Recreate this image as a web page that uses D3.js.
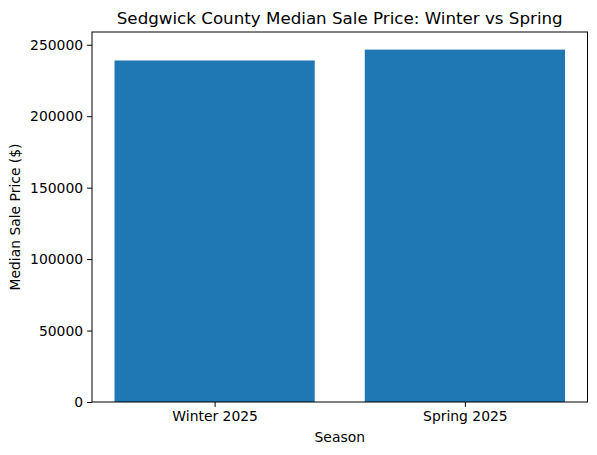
<!DOCTYPE html>
<html>
<head>
<meta charset="utf-8">
<script src="https://cdn.jsdelivr.net/npm/d3@7"></script>
<style>
  body { margin: 0; background: #fff; }
  text { font-family: "DejaVu Sans", sans-serif; fill: #000; }
</style>
</head>
<body>
<div id="chart"></div>
<script>
// data
var seasons = ["Winter 2025", "Spring 2025"];
var medianPrice = [239000, 246600];
var yTicks = [0, 50000, 100000, 150000, 200000, 250000];

var svgWidth = 597;
var svgHeight = 455;

var margin = { top: 32, right: 10, bottom: 53, left: 92 };
var width = 587.5 - margin.left;
var height = 402 - margin.top;

var svg = d3.select("#chart")
    .append("svg")
    .attr("width", svgWidth)
    .attr("height", svgHeight);

var g = svg.append("g")
    .attr("transform", `translate(${margin.left}, ${margin.top})`);

// scales (matplotlib-like margins)
var xScale = d3.scaleLinear()
    .domain([-0.49, 1.49])
    .range([0, width]);

var yScale = d3.scaleLinear()
    .domain([0, d3.max(medianPrice) * 1.05])
    .range([height, 0]);

// bars
g.selectAll("rect")
    .data(medianPrice)
    .enter()
    .append("rect")
    .attr("x", (d, i) => xScale(i - 0.4))
    .attr("width", (d, i) => xScale(i + 0.4) - xScale(i - 0.4))
    .attr("y", d => yScale(d))
    .attr("height", d => height - yScale(d))
    .attr("fill", "#1f77b4");

// axes
var bottomAxis = d3.axisBottom(xScale)
    .tickValues(d3.range(seasons.length))
    .tickFormat(i => seasons[i])
    .tickSize(4.9)
    .tickPadding(4);

var leftAxis = d3.axisLeft(yScale)
    .tickValues(yTicks)
    .tickFormat(d3.format("d"))
    .tickSize(4.9)
    .tickPadding(4);

var axisX = g.append("g")
    .attr("transform", `translate(0, ${height})`)
    .call(bottomAxis);

var axisY = g.append("g")
    .call(leftAxis);

[axisX, axisY].forEach(a => {
    a.select(".domain").remove();
    a.selectAll("text").style("font-size", "13.9px").style("font-family", "DejaVu Sans, sans-serif");
    a.selectAll("line").attr("stroke", "#000").attr("stroke-width", 1);
});

// frame
g.append("rect")
    .attr("x", 0)
    .attr("y", 0)
    .attr("width", width)
    .attr("height", height)
    .attr("fill", "none")
    .attr("stroke", "#000")
    .attr("stroke-width", 1);

// labels
svg.append("text")
    .attr("x", margin.left + width / 2)
    .attr("y", 24)
    .attr("text-anchor", "middle")
    .style("font-size", "16.7px")
    .text("Sedgwick County Median Sale Price: Winter vs Spring");

svg.append("text")
    .attr("x", margin.left + width / 2)
    .attr("y", 442)
    .attr("text-anchor", "middle")
    .style("font-size", "13.9px")
    .text("Season");

svg.append("text")
    .attr("transform", `translate(20, ${margin.top + height / 2}) rotate(-90)`)
    .attr("text-anchor", "middle")
    .style("font-size", "13.9px")
    .text("Median Sale Price ($)");
</script>
</body>
</html>
